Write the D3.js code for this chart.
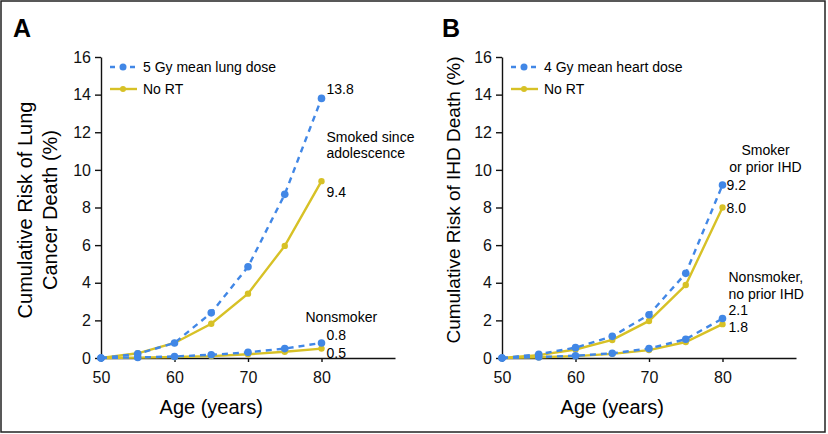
<!DOCTYPE html>
<html>
<head>
<meta charset="utf-8">
<script src="https://cdn.jsdelivr.net/npm/d3@7"></script>
<style>
  body { margin: 0; background: #fff; }
  svg { display: block; font-family: "Liberation Sans", Arial, sans-serif; }
  .axis path, .axis line { stroke: #111; stroke-width: 1.4; }
  .axis text { font-size: 16px; fill: #111; }
</style>
</head>
<body>
<div class="chart"></div>
<script>
const ages = [50, 55, 60, 65, 70, 75, 80];
const yTicks = [0, 2, 4, 6, 8, 10, 12, 14, 16];
const xTicks = [50, 60, 70, 80];

// panel A: lung cancer death
const lungSmokerRT = [0, 0.22, 0.8, 2.4, 4.85, 8.7, 13.8];
const lungSmokerNoRT = [0, 0.25, 0.8, 1.82, 3.42, 5.96, 9.4];
const lungNonRT = [0, 0.03, 0.08, 0.17, 0.3, 0.5, 0.8];
const lungNonNoRT = [0, 0.02, 0.05, 0.1, 0.2, 0.33, 0.5];

// panel B: IHD death
const ihdSmokerRT = [0, 0.2, 0.55, 1.15, 2.3, 4.5, 9.2];
const ihdSmokerNoRT = [0, 0.15, 0.45, 0.96, 1.97, 3.88, 8.0];
const ihdNonRT = [0, 0.05, 0.12, 0.25, 0.5, 1.0, 2.1];
const ihdNonNoRT = [0, 0.04, 0.1, 0.22, 0.42, 0.85, 1.8];

const blue = '#4187e6';
const yellow = '#d7c126';

const w = 828;
const h = 434;

const svg = d3.select('.chart')
  .append('svg')
  .attr('width', w)
  .attr('height', h);

svg.append('rect')
  .attr('x', 1)
  .attr('y', 1)
  .attr('width', 824)
  .attr('height', 431)
  .attr('fill', 'none')
  .attr('stroke', '#222')
  .attr('stroke-width', 1.5);

function drawPanel(p) {
  const xScale = d3.scaleLinear().domain([50, 90]).range([p.left, p.left + 294]);
  const yScale = d3.scaleLinear().domain([0, 16]).range([358, 57]);

  const g = svg.append('g');

  g.append('text')
    .attr('x', p.letterX)
    .attr('y', 37)
    .style('font-size', '25px')
    .style('font-weight', 'bold')
    .text(p.letter);

  // y label
  p.yLabel.forEach((t, i) => {
    g.append('text')
      .attr('transform', `translate(${p.yLabelX[i]}, ${p.yLabelY}) rotate(-90)`)
      .style('text-anchor', 'middle')
      .style('font-size', p.yLabelSize + 'px')
      .text(t);
  });

  g.append('g')
    .attr('class', 'axis')
    .attr('transform', `translate(${p.left}, 0)`)
    .call(d3.axisLeft(yScale).tickValues(yTicks).tickSize(6).tickSizeOuter(0).tickPadding(4));

  g.append('g')
    .attr('class', 'axis')
    .attr('transform', 'translate(0, 358)')
    .call(d3.axisBottom(xScale).tickValues(xTicks).tickSize(4).tickSizeOuter(0).tickPadding(10));

  g.append('text')
    .attr('x', xScale(65))
    .attr('y', 414)
    .style('text-anchor', 'middle')
    .style('font-size', '20px')
    .text('Age (years)');

  const line = d3.line()
    .x((d, i) => xScale(ages[i]))
    .y(d => yScale(d));

  function series(vals, color, dashed, r) {
    g.append('path')
      .datum(vals)
      .attr('d', line)
      .attr('fill', 'none')
      .attr('stroke', color)
      .attr('stroke-width', 2.4)
      .attr('stroke-dasharray', dashed ? '6,5' : null);
    g.selectAll(null)
      .data(vals)
      .enter()
      .append('circle')
      .attr('cx', (d, i) => xScale(ages[i]))
      .attr('cy', d => yScale(d))
      .attr('r', r)
      .attr('fill', color);
  }

  series(p.nonNoRT, yellow, false, 3.2);
  series(p.smokerNoRT, yellow, false, 3.2);
  series(p.nonRT, blue, true, 3.8);
  series(p.smokerRT, blue, true, 3.8);

  // legend
  const lx = p.left + 9;
  g.append('line')
    .attr('x1', lx).attr('x2', lx + 27)
    .attr('y1', 67).attr('y2', 67)
    .attr('stroke', blue).attr('stroke-width', 2.4)
    .attr('stroke-dasharray', '5,5');
  g.append('circle').attr('cx', lx + 13).attr('cy', 67).attr('r', 3.5).attr('fill', blue);
  g.append('line')
    .attr('x1', lx).attr('x2', lx + 27)
    .attr('y1', 89).attr('y2', 89)
    .attr('stroke', yellow).attr('stroke-width', 2.4);
  g.append('circle').attr('cx', lx + 13).attr('cy', 89).attr('r', 3).attr('fill', yellow);
  g.append('text').attr('x', lx + 33).attr('y', 72).style('font-size', '14px').text(p.legendRT);
  g.append('text').attr('x', lx + 33).attr('y', 94).style('font-size', '14px').text('No RT');

  p.notes.forEach(n => {
    g.append('text')
      .attr('x', xScale(80) + n.dx)
      .attr('y', (n.v != null ? yScale(n.v) : 0) + n.dy)
      .style('font-size', '14px')
      .style('text-anchor', n.anchor || 'start')
      .text(n.t);
  });
}

drawPanel({
  left: 101,
  letter: 'A',
  letterX: 13,
  yLabel: ['Cumulative Risk of Lung', 'Cancer Death (%)'],
  yLabelX: [32, 57],
  yLabelY: 210,
  yLabelSize: 20,
  legendRT: '5 Gy mean lung dose',
  smokerRT: lungSmokerRT,
  smokerNoRT: lungSmokerNoRT,
  nonRT: lungNonRT,
  nonNoRT: lungNonNoRT,
  notes: [
    { t: '13.8', v: 13.8, dx: 5, dy: -4 },
    { t: 'Smoked since', v: null, dx: 5, dy: 142 },
    { t: 'adolescence', v: null, dx: 5, dy: 158 },
    { t: '9.4', v: 9.4, dx: 5, dy: 16 },
    { t: 'Nonsmoker', v: null, dx: -16, dy: 322 },
    { t: '0.8', v: 0.8, dx: 5, dy: -3 },
    { t: '0.5', v: 0.5, dx: 5, dy: 9 }
  ]
});

drawPanel({
  left: 502,
  letter: 'B',
  letterX: 442,
  yLabel: ['Cumulative Risk of IHD Death (%)'],
  yLabelX: [460],
  yLabelY: 200,
  yLabelSize: 19,
  legendRT: '4 Gy mean heart dose',
  smokerRT: ihdSmokerRT,
  smokerNoRT: ihdSmokerNoRT,
  nonRT: ihdNonRT,
  nonNoRT: ihdNonNoRT,
  notes: [
    { t: 'Smoker', v: null, dx: 43, dy: 155, anchor: 'middle' },
    { t: 'or prior IHD', v: null, dx: 43, dy: 172, anchor: 'middle' },
    { t: '9.2', v: 9.2, dx: 4, dy: 5 },
    { t: '8.0', v: 8.0, dx: 4, dy: 5 },
    { t: 'Nonsmoker,', v: null, dx: 6, dy: 282 },
    { t: 'no prior IHD', v: null, dx: 6, dy: 299 },
    { t: '2.1', v: 2.1, dx: 6, dy: -3 },
    { t: '1.8', v: 1.8, dx: 6, dy: 8 }
  ]
});
</script>
</body>
</html>
